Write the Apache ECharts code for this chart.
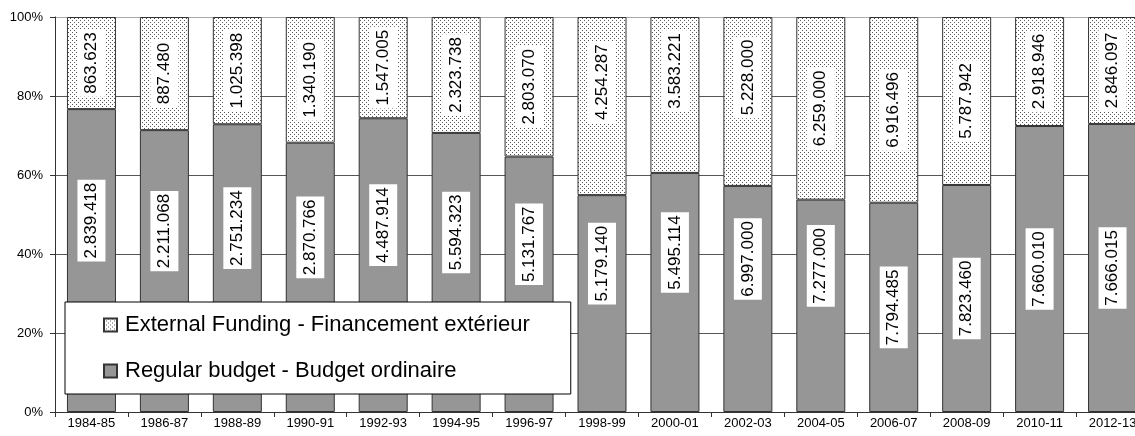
<!DOCTYPE html>
<html>
<head>
<meta charset="utf-8">
<script src="https://cdn.jsdelivr.net/npm/echarts@6/dist/echarts.min.js"></script>
<style>
	html, body { margin: 0; padding: 0; background: #fff; }
	#chart { width: 1135px; height: 436px; }
</style>
</head>
<body>
<div id="chart"></div>
<script>
var periods = [ '1984-85', '1986-87', '1988-89', '1990-91', '1992-93', '1994-95',
	'1996-97', '1998-99', '2000-01', '2002-03', '2004-05', '2006-07', '2008-09',
	'2010-11', '2012-13' ];
var regularBudget = [ 2839418, 2211068, 2751234, 2870766, 4487914, 5594323,
	5131767, 5179140, 5495114, 6997000, 7277000, 7794485, 7823460, 7660010,
	7666015 ];
var externalFunding = [ 863623, 887480, 1025398, 1340190, 1547005, 2323738,
	2803070, 4254287, 3583221, 5228000, 6259000, 6916496, 5787942, 2918946,
	2846097 ];
var yTicks = [ 0, 20, 40, 60, 80, 100 ];

var regularName = 'Regular budget - Budget ordinaire';
var externalName = 'External Funding - Financement extérieur';
var font = 'Arial, "Liberation Sans", sans-serif';

// dotted fill like the excel pattern
function dotPattern() {
	var c = document.createElement('canvas');
	c.width = 4;
	c.height = 4;
	var ctx = c.getContext('2d');
	ctx.fillStyle = '#ffffff';
	ctx.fillRect(0, 0, 4, 4);
	ctx.fillStyle = '#555555';
	ctx.fillRect(0, 0, 1, 1);
	ctx.fillRect(2, 2, 1, 1);
	return c;
}

function fmt(n) {
	return String(n).replace(/\B(?=(\d{3})+(?!\d))/g, '.');
}

function share(arr, i) {
	return arr[i] / (regularBudget[i] + externalFunding[i]) * 100;
}

function barLabel() {
	return {
		show : true,
		position : 'inside',
		rotate : 90,
		color : '#000',
		fontFamily : font,
		fontSize : 17,
		lineHeight : 18,
		backgroundColor : '#fff',
		padding : [ 5, 3, 5, 3 ],
		formatter : function(p) {
			return fmt(p.data.raw);
		}
	};
}

var regularData = periods.map(function(p, i) {
	var d = { value : share(regularBudget, i), raw : regularBudget[i] };
	// labels near the legend were pushed up in the original
	if (i < 11) {
		d.label = { offset : [ 40, 0 ] };
	}
	return d;
});
var externalData = periods.map(function(p, i) {
	var d = { value : share(externalFunding, i), raw : externalFunding[i] };
	if (i >= 7 && i <= 9) {
		d.label = { offset : [ 24, 0 ] };
	}
	return d;
});

var graph = echarts.init(document.getElementById('chart'));

var option = {
	animation : false,
	grid : {
		left : 55,
		right : -14,
		top : 17,
		bottom : 24,
		containLabel : false,
		outerBoundsMode : 'none'
	},
	legend : {
		orient : 'vertical',
		left : 65,
		top : 302,
		data : [ externalName, regularName ],
		backgroundColor : '#fff',
		borderColor : '#000',
		borderWidth : 1,
		borderRadius : 0,
		padding : [ 12, 41, 12, 38 ],
		itemGap : 24,
		itemWidth : 13,
		itemHeight : 13,
		icon : 'rect',
		textStyle : {
			fontFamily : font,
			fontSize : 22,
			color : '#000',
			padding : [ 0, 0, 0, 3 ]
		}
	},
	xAxis : {
		type : 'category',
		data : periods,
		axisLine : { lineStyle : { color : '#333', width : 1 } },
		axisTick : { show : true, length : 5, lineStyle : { color : '#333' } },
		axisLabel : {
			color : '#000',
			fontFamily : font,
			fontSize : 13,
			margin : 5,
			interval : 0
		}
	},
	yAxis : {
		type : 'value',
		min : yTicks[0],
		max : yTicks[yTicks.length - 1],
		interval : 20,
		axisLine : { show : true, lineStyle : { color : '#333', width : 1 } },
		axisTick : { show : true, length : 5, lineStyle : { color : '#333' } },
		axisLabel : {
			color : '#000',
			fontFamily : font,
			fontSize : 13,
			margin : 12,
			formatter : '{value}%'
		},
		splitLine : {
			show : true,
			lineStyle : {
				color : [ '#555', '#555', '#555', '#555', '#555', '#aaa' ],
				width : 1
			}
		}
	},
	series : [ {
		name : regularName,
		type : 'bar',
		stack : 'total',
		barWidth : 49,
		data : regularData,
		itemStyle : {
			color : '#969696',
			borderColor : '#333',
			borderWidth : 1
		},
		label : barLabel()
	}, {
		name : externalName,
		type : 'bar',
		stack : 'total',
		barWidth : 49,
		data : externalData,
		itemStyle : {
			color : { image : dotPattern(), repeat : 'repeat' },
			borderColor : '#333',
			borderWidth : 1
		},
		label : barLabel()
	} ]
};

graph.setOption(option);
</script>
</body>
</html>
